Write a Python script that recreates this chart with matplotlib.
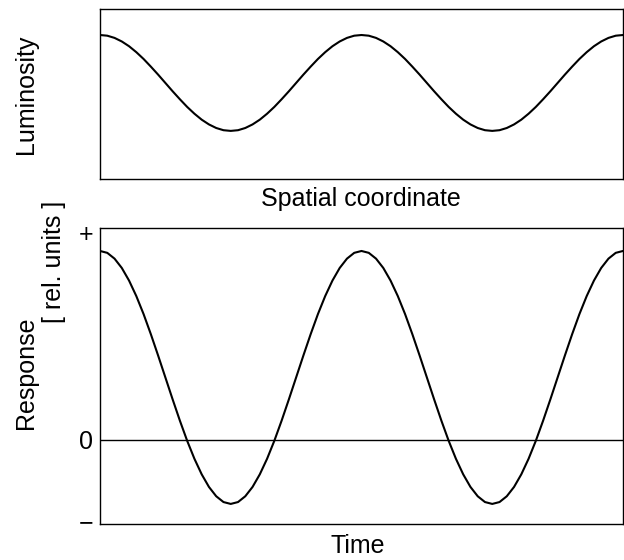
import matplotlib.pyplot as plt

plt.rcParams['font.family'] = ['Liberation Sans', 'DejaVu Sans']

# phase along the axis (degrees), two full periods in each panel
phase = list(range(0, 721, 10))

# luminosity (0..1 of panel height), max -> min
lum_half = [0.847, 0.843, 0.830, 0.809, 0.781, 0.746, 0.706, 0.661, 0.614, 0.565,
            0.516, 0.469, 0.424, 0.384, 0.349, 0.321, 0.300, 0.287, 0.283]
luminosity = lum_half + lum_half[-2::-1] + lum_half[1:] + lum_half[-2::-1]

# response (rel. units, + = 1), max -> min
resp_half = [0.913, 0.904, 0.876, 0.831, 0.770, 0.695, 0.608, 0.511, 0.408, 0.302,
             0.196, 0.093, -0.004, -0.091, -0.166, -0.227, -0.272, -0.300, -0.309]
response = resp_half + resp_half[-2::-1] + resp_half[1:] + resp_half[-2::-1]

resp_ticks = [1.0, 0.0, -0.39]
resp_ticklabels = ['+', '0', '\u2212']

fig = plt.figure(figsize=(6.24, 5.6), dpi=100)

ax1 = fig.add_axes([100 / 624, 1 - 179 / 560, 523 / 624, 170 / 560])
ax1.plot(phase, luminosity, color='black', lw=1.5, solid_capstyle='round')
ax1.set_xlim(0, 720)
ax1.set_ylim(0, 1)
ax1.set_xticks([])
ax1.set_yticks([])
for sp in ax1.spines.values():
    sp.set_linewidth(1.0)

ax2 = fig.add_axes([100 / 624, 1 - 524 / 560, 523 / 624, 296 / 560])
ax2.plot(phase, response, color='black', lw=1.5, solid_capstyle='round')
ax2.axhline(0, color='black', lw=1.0)
ax2.set_xlim(0, 720)
ax2.set_ylim(-0.406, 1.024)
ax2.set_xticks([])
ax2.set_yticks(resp_ticks)
ax2.set_yticklabels(resp_ticklabels, fontsize=18)
ax2.tick_params(axis='y', length=0, pad=5)
for sp in ax2.spines.values():
    sp.set_linewidth(1.0)

fig.text(26 / 624, 1 - 94 / 560, 'Luminosity', rotation=90, fontsize=18,
         ha='center', va='center')
fig.text(361 / 624, 1 - 199 / 560, 'Spatial coordinate', fontsize=18,
         ha='center', va='center')
fig.text(26 / 624, 1 - 373 / 560, 'Response', rotation=90, fontsize=18,
         ha='center', va='center')
fig.text(54 / 624, 1 - 262 / 560, '[ rel. units ]', rotation=90, fontsize=18,
         ha='center', va='center')
fig.text(358 / 624, 1 - 546 / 560, 'Time', fontsize=18,
         ha='center', va='center')

fig.savefig('out.png', dpi=100)
